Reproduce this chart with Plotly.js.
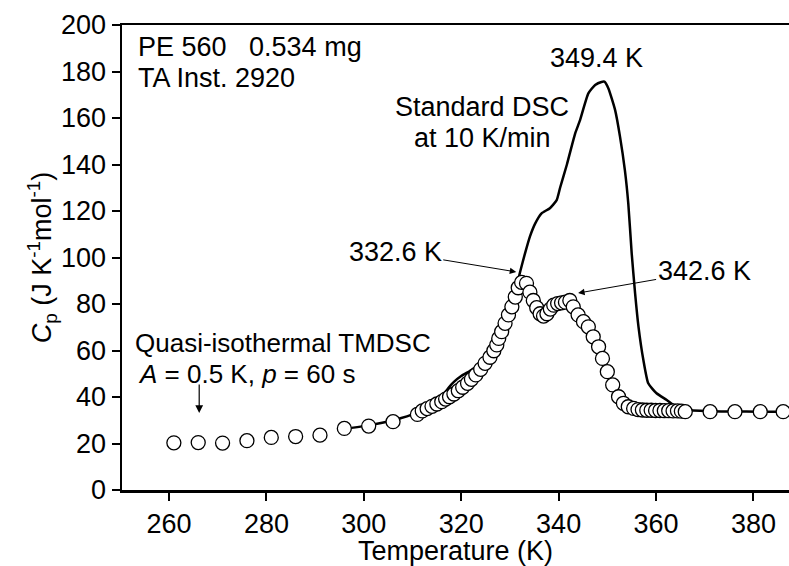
<!DOCTYPE html>
<html>
<head>
<meta charset="utf-8">
<script src="https://cdn.plot.ly/plotly-3.0.1.min.js"></script>
<style>html,body{margin:0;padding:0;background:#fff;}#plot{width:789px;height:566px;}</style>
</head>
<body>
<div id="plot"></div>
<script>
// Quasi-isothermal TMDSC (open circles)
const tmdscT = [261,266,271,276,281,286,291,296,301,306,311,312,313,314,315,316,316.8,317.6,318.5,319.4,320.3,321.3,322.1,323,324,324.9,325.9,326.7,327.3,327.7,328.3,329,329.7,330.4,331.1,331.7,332.4,333.4,334.1,334.8,335.5,336.2,336.9,337.6,338.3,339,339.8,340.6,341.4,342.3,343,344,345.1,346.1,347.1,348.2,349,350,351.1,352.3,353.3,354.3,355.4,356.3,357.2,358.1,359,359.9,360.8,361.7,362.6,363.5,364.4,365.2,366,371.1,376.2,381.4,386.1];
const tmdscCp = [20.3,20.4,20.2,21.2,22.6,23,23.6,26.5,27.5,29.4,32.5,34,35,36,37,38,39.1,40.1,41.3,42.7,44.2,45.9,47.6,49.5,51.9,54.5,57.1,59.9,62.4,65.2,68.1,71.7,75.3,78.8,83,87,89.3,88.9,85.1,81.5,78.4,75.8,74.8,75.8,77.8,79.5,80.2,80.5,80.8,81.5,78.8,75.3,72.4,70.2,65.9,61.6,56.6,50.9,45.2,40.1,37.3,35.8,35.1,34.6,34.4,34.3,34.3,34.2,34.2,34.1,34.1,34,34,33.9,33.7,33.7,33.7,33.7,33.7];
// Standard DSC at 10 K/min (solid line)
const dscT = [296,301,306,311,314,316,317.4,318.5,320,322,324,326,328,330,331.5,332.1,333.1,334.1,335.2,336.5,338.2,339.6,340.3,341.7,342.3,343.4,344.4,346.1,347.5,348.8,349.4,350.2,351.6,352.6,353.6,354.3,355,355.7,356.4,357.4,358.4,360.1,362.2,364,366,371,376,381,387.3];
const dscCp = [26.3,27.8,30,33.3,36.5,40,44,46.5,49,51.5,54.5,59,67,78,88.5,93.9,101.8,109,114.7,119,121.2,124.7,130,140,144.8,153.4,159.1,170.6,174.2,175.5,175.6,172.8,163.4,152,137.6,123.3,101.8,84.6,70.2,55.9,45.9,41.6,38.7,36,34.5,33.9,33.8,33.7,33.7];
const xTicks = [260,280,300,320,340,360,380];
const yTicks = [0,20,40,60,80,100,120,140,160,180,200];

const F = 'Arial, "Liberation Sans", sans-serif';
const fs = 27;

const traces = [
  {x: dscT, y: dscCp, mode: 'lines', type: 'scatter',
   line: {color: '#000', width: 2.5, shape: 'spline', smoothing: 0.5}, hoverinfo: 'skip'},
  {x: tmdscT, y: tmdscCp, mode: 'markers', type: 'scatter',
   marker: {symbol: 'circle', size: 14, color: '#fff', line: {color: '#000', width: 1.3}}}
];

const ann = (text, x, y, extra) => Object.assign({text, x, y, xref: 'x', yref: 'y', showarrow: false,
  font: {family: F, size: fs, color: '#000'}}, extra || {});

const layout = {
  width: 789, height: 566,
  margin: {l: 122, r: 0, t: 25, b: 76},
  paper_bgcolor: '#fff', plot_bgcolor: '#fff',
  showlegend: false,
  font: {family: F, size: fs, color: '#000'},
  xaxis: {
    range: [250.35, 387.3], tickvals: xTicks, ticktext: xTicks.map(String),
    showgrid: false, zeroline: false, showline: true, mirror: true,
    linecolor: '#000', linewidth: 2.5, ticks: 'outside', ticklen: 8, tickwidth: 2, tickcolor: '#000',
    tickfont: {family: F, size: fs}, title: {text: 'Temperature (K)', font: {family: F, size: fs}, standoff: 3}
  },
  yaxis: {
    range: [0, 200], tickvals: yTicks, ticktext: yTicks.map(String),
    showgrid: false, zeroline: false, showline: true,
    linecolor: '#000', linewidth: 2.5, ticks: 'outside', ticklen: 8, tickwidth: 2, tickcolor: '#000',
    tickfont: {family: F, size: fs},
    title: {text: '<i>C</i><sub>p</sub> (J K<sup>-1</sup>mol<sup>-1</sup>)', font: {family: F, size: fs}, standoff: 0}
  },
  annotations: [
    ann('PE 560   0.534 mg', 253.2, 190.5, {xanchor: 'left'}),
    ann('TA Inst. 2920', 253.2, 177.2, {xanchor: 'left'}),
    ann('349.4 K', 347.7, 186),
    ann('Standard DSC', 324.3, 164.8),
    ann('at 10 K/min', 324.3, 151.3),
    ann('Quasi-isothermal TMDSC', 252.6, 63.4, {xanchor: 'left', font: {family: F, size: 26, color: '#000'}}),
    ann('<i>A</i> = 0.5 K, <i>p</i> = 60 s', 253.2, 49.9, {xanchor: 'left', font: {family: F, size: 26, color: '#000'}}),
    ann('332.6 K', 331.3, 93.8, {showarrow: true, ax: -121, ay: -20, arrowhead: 2, arrowsize: 1.3, arrowwidth: 1, arrowcolor: '#000'}),
    ann('342.6 K', 344.0, 84.7, {showarrow: true, ax: 126, ay: -22, arrowhead: 2, arrowsize: 1.3, arrowwidth: 1, arrowcolor: '#000'}),
    ann('', 266.2, 33.1, {showarrow: true, axref: 'x', ayref: 'y', ax: 266.2, ay: 46.0, arrowhead: 2, arrowsize: 1.3, arrowwidth: 1.2, arrowcolor: '#000'})
  ]
};

Plotly.newPlot('plot', traces, layout, {staticPlot: true, displayModeBar: false});
</script>
</body>
</html>
